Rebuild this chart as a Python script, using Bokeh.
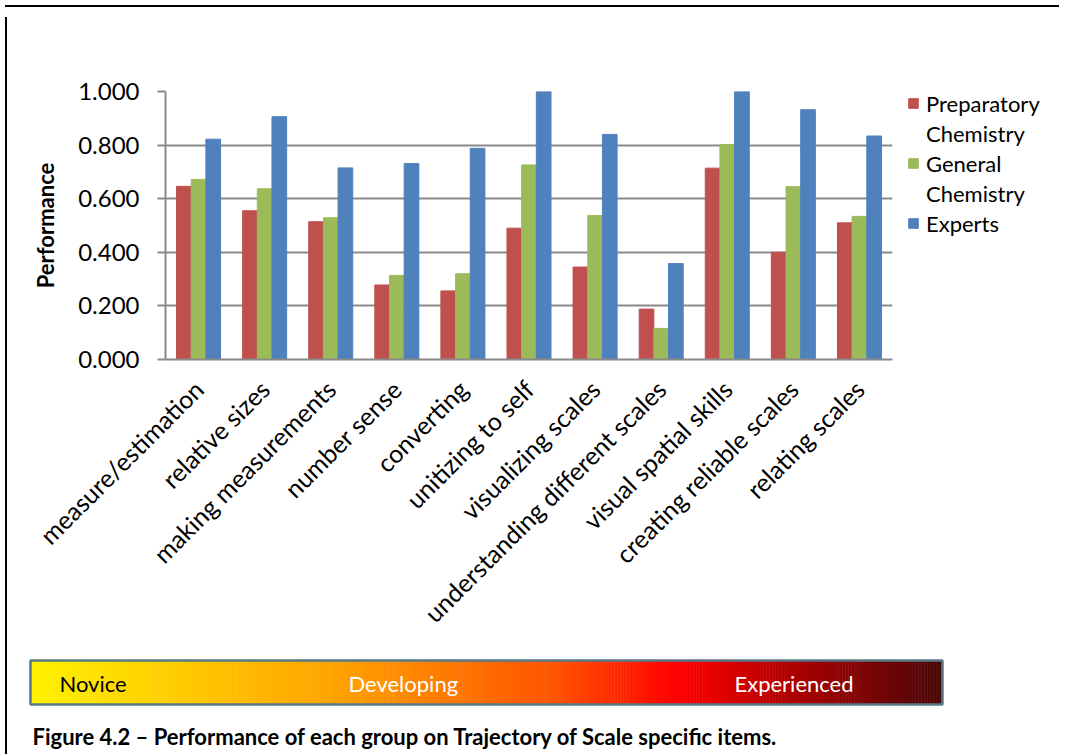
import numpy as np
from bokeh.plotting import figure
from bokeh.layouts import column, row
from bokeh.models import (ColumnDataSource, FactorRange, Range1d, FixedTicker, PrintfTickFormatter,
                          Legend, LegendItem, Div)
from bokeh.transform import dodge
from bokeh.core.properties import value
from bokeh.embed import file_html
from bokeh.resources import INLINE
from math import pi

categories = ["measure/estimation", "relative sizes", "making measurements", "number sense",
              "converting", "unitizing to self", "visualizing scales",
              "understanding different scales", "visual spatial skills",
              "creating reliable scales", "relating scales"]
preparatory = [0.646, 0.555, 0.514, 0.278, 0.256, 0.490, 0.345, 0.188, 0.714, 0.400, 0.510]
general = [0.672, 0.637, 0.529, 0.314, 0.320, 0.726, 0.537, 0.116, 0.802, 0.645, 0.534]
experts = [0.822, 0.906, 0.715, 0.731, 0.788, 1.000, 0.840, 0.358, 1.000, 0.932, 0.834]
y_ticks = [0.0, 0.2, 0.4, 0.6, 0.8, 1.0]
scale_labels = ["Novice", "Developing", "Experienced"]
caption = "Figure 4.2 \u2013 Performance of each group on Trajectory of Scale specific items."

FONT = "Lato"
RED, GREEN, BLUE = "#C0504D", "#9BBB59", "#4F81BD"
GRID = "#8A8A8A"

src = ColumnDataSource(dict(cat=categories, prep=preparatory, gen=general, exp=experts))

W = 1052
H1 = 637
p = figure(x_range=FactorRange(factors=categories, range_padding=0), y_range=Range1d(0, 1),
           frame_width=727, frame_height=268, output_backend="svg", toolbar_location=None,
           min_border_left=153, min_border_top=79, min_border_right=172, min_border_bottom=290)
p.frame_align = False
p.outline_line_color = None
p.background_fill_color = "white"

bw = 0.222
r1 = p.vbar(x=dodge("cat", -bw, range=p.x_range), top="prep", width=bw, source=src,
            fill_color=RED, line_color=RED)
r2 = p.vbar(x=dodge("cat", 0.0, range=p.x_range), top="gen", width=bw, source=src,
            fill_color=GREEN, line_color=GREEN)
r3 = p.vbar(x=dodge("cat", bw, range=p.x_range), top="exp", width=bw, source=src,
            fill_color=BLUE, line_color=BLUE)
dummy = p.vbar(x=[], top=[], width=0.1, fill_alpha=0, line_alpha=0)

p.xgrid.grid_line_color = None
p.ygrid.grid_line_color = GRID
p.ygrid.grid_line_width = 2
p.ygrid.level = "underlay"

p.yaxis.ticker = FixedTicker(ticks=y_ticks)
p.yaxis.formatter = PrintfTickFormatter(format="%.3f")
p.yaxis.major_tick_out = 8
p.yaxis.major_tick_in = 0
p.yaxis.minor_tick_line_color = None
p.yaxis.major_tick_line_color = GRID
p.yaxis.major_tick_line_width = 2
p.yaxis.axis_line_color = GRID
p.yaxis.axis_line_width = 2
p.yaxis.major_label_text_font = FONT
p.yaxis.major_label_text_font_size = "24px"
p.yaxis.major_label_text_color = "black"
p.yaxis.major_label_standoff = 18
p.yaxis.axis_label = "Performance"
p.yaxis.axis_label_text_font = FONT
p.yaxis.axis_label_text_font_size = "22px"
p.yaxis.axis_label_text_font_style = "bold"
p.yaxis.axis_label_text_color = "black"
p.yaxis.axis_label_standoff = 16

p.xaxis.axis_line_color = GRID
p.xaxis.axis_line_width = 2
p.xaxis.major_tick_line_color = None
p.xaxis.minor_tick_line_color = None
p.xaxis.major_label_orientation = pi / 4
p.xaxis.major_label_text_font = FONT
p.xaxis.major_label_text_font_size = "25px"
p.xaxis.major_label_text_color = "black"
p.xaxis.major_label_standoff = 19

legend = Legend(items=[
    LegendItem(label="Preparatory", renderers=[r1]),
    LegendItem(label="Chemistry", renderers=[dummy]),
    LegendItem(label="General", renderers=[r2]),
    LegendItem(label="Chemistry", renderers=[dummy]),
    LegendItem(label="Experts", renderers=[r3]),
], location=(15, 121))
legend.label_text_font = FONT
legend.label_text_font_size = "22px"
legend.label_text_color = "black"
legend.label_height = 30
legend.glyph_height = 12
legend.glyph_width = 12
legend.spacing = 0
legend.padding = 0
legend.margin = 0
legend.label_standoff = 7
legend.border_line_color = None
legend.background_fill_alpha = 0
p.add_layout(legend, "right")

# bottom panel: scale bar + caption (pixel coordinates)
H2 = 100
q = figure(x_range=Range1d(0, W), y_range=Range1d(H2, 0), frame_width=W, frame_height=H2,
           output_backend="svg", toolbar_location=None, min_border=0)
q.frame_align = False
q.axis.visible = False
q.grid.visible = False
q.outline_line_color = None

x0, x1, y0, y1 = 18, 930, 11, 55
stops = [0.0, 0.343, 0.58, 0.71, 0.83, 1.0]
stop_cols = [(255, 242, 0), (255, 160, 0), (255, 80, 0), (255, 0, 0), (176, 0, 0), (74, 8, 8)]
n = 300
edges = np.linspace(x0, x1, n + 1)
fr = (np.arange(n) + 0.5) / n
cols = []
for f in fr:
    rgb = [int(round(np.interp(f, stops, [c[k] for c in stop_cols]))) for k in range(3)]
    cols.append("#%02x%02x%02x" % tuple(rgb))
q.quad(left=edges[:-1], right=edges[1:] + 0.5, top=y0, bottom=y1, fill_color=cols, line_color=None)
q.quad(left=[x0], right=[x1], top=[y0], bottom=[y1], fill_color=None, line_color="#557A88", line_width=2.5)

q.text(x=[47, 336, 722], y=[34, 34, 34], text=scale_labels,
       text_color=["black", "white", "white"], text_font=value(FONT), text_font_size="22px",
       text_baseline="middle", text_align="left")
q.text(x=[20], y=[87], text=[caption], text_font=value(FONT), text_font_size="22px",
       text_font_style="bold", text_color="black", text_baseline="alphabetic", text_align="left")

top_line = Div(text="", width=W + 2, height=2, styles={"background-color": "black"})
left_line = Div(text="", width=2, height=H1 + H2, styles={"background-color": "black"})
layout = column(top_line, row(left_line, column(p, q, spacing=0), spacing=0), spacing=0)

open("out.html", "w").write(file_html(layout, INLINE))
